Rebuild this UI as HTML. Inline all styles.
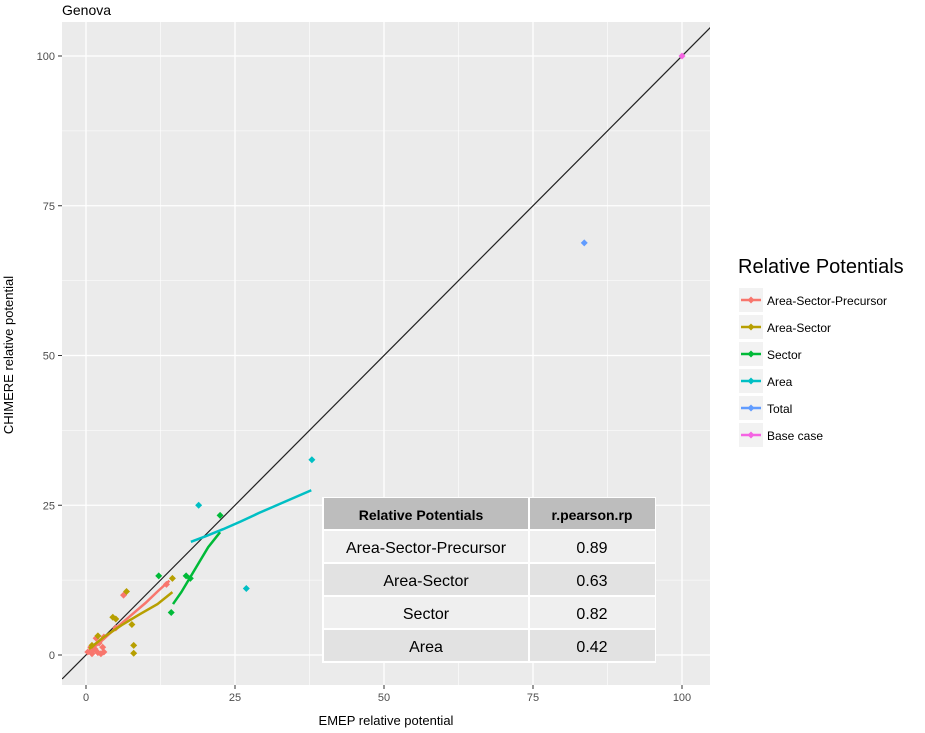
<!DOCTYPE html>
<html><head><meta charset="utf-8">
<style>
body{margin:0;background:#fff;width:925px;height:733px;overflow:hidden;font-family:"Liberation Sans",sans-serif;}
svg{position:absolute;left:0;top:0}
</style></head>
<body>
<svg id="chart" width="925" height="733"></svg>
<script>
const xTicks=[0,25,50,75,100];
const yTicks=[0,25,50,75,100];
const seriesNames=["Area-Sector-Precursor","Area-Sector","Sector","Area","Total","Base case"];
const seriesColors=["#F8766D","#B79F00","#00BA38","#00BFC4","#619CFF","#F564E3"];
const aspLine=[[0,0.3],[2,1.8],[4,3.6],[6,5.3],[8,7],[10,8.7],[12,10.6],[14,12.4]];
const aspPts=[[0.3,0.5],[1,0.2],[1.5,1],[2,0.4],[2.5,0.2],[3,0.5],[0.8,1.3],[2.2,2],[1.2,0.8],[6.3,10],[5,4.5],[3,3],[1.7,2.8],[13.5,11.8],[2.8,1.3]];
const asLine=[[0.5,1],[3,3],[6,5],[9,6.8],[12,8.5],[14.5,10.5]];
const asPts=[[6.8,10.6],[4.5,6.3],[5,6],[8,1.6],[8,0.3],[2,3.2],[7.7,5.1],[14.5,12.8],[1,1.6]];
const secLine=[[14.6,8.5],[16,10.5],[17.5,13],[19,15.5],[20.5,18],[22.5,20.5]];
const secPts=[[12.2,13.2],[22.5,23.3],[17.5,12.8],[14.3,7.1],[16.8,13.2]];
const areaLine=[[17.6,18.9],[20,19.8],[23,21],[26,22.3],[29,23.7],[32,25],[35,26.3],[37.8,27.5]];
const areaPts=[[18.9,25],[37.9,32.6],[26.9,11.1]];
const totalPts=[[83.6,68.8]];
const basePts=[[100,100]];
const lines=[aspLine,asLine,secLine,areaLine,null,null];
const pts=[aspPts,asPts,secPts,areaPts,totalPts,basePts];
const tableHeader=["Relative Potentials","r.pearson.rp"];
const tableNames=["Area-Sector-Precursor","Area-Sector","Sector","Area"];
const tableVals=["0.89","0.63","0.82","0.42"];

const NS="http://www.w3.org/2000/svg";
const svg=document.getElementById('chart');
const L=62,R=710,T=22,B=685;
const X=v=>86+v*5.96, Y=v=>655-v*5.99;
function mk(t,a,p){const e=document.createElementNS(NS,t);for(const k in a)e.setAttribute(k,a[k]);(p||svg).appendChild(e);return e;}
const panel=mk('rect',{x:L,y:T,width:R-L,height:B-T,fill:'#EBEBEB'});


for(let i=0;i<xTicks.length-1;i++){const m=(xTicks[i]+xTicks[i+1])/2;mk('line',{x1:X(m),x2:X(m),y1:T,y2:B,stroke:'#fff','stroke-width':0.6});}
for(let i=0;i<yTicks.length-1;i++){const m=(yTicks[i]+yTicks[i+1])/2;mk('line',{y1:Y(m),y2:Y(m),x1:L,x2:R,stroke:'#fff','stroke-width':0.6});}
xTicks.forEach(t=>{const g=mk('line',{x1:X(t),x2:X(t),y1:T,y2:B,stroke:'#fff','stroke-width':1.3});


mk('line',{x1:X(t),x2:X(t),y1:B,y2:B+4,stroke:'#333'});
const tx=mk('text',{x:X(t),y:B+16,'text-anchor':'middle','font-size':11,fill:'#4D4D4D'});tx.textContent=t;

});
yTicks.forEach(t=>{mk('line',{y1:Y(t),y2:Y(t),x1:L,x2:R,stroke:'#fff','stroke-width':1.3});
mk('line',{y1:Y(t),y2:Y(t),x1:L-4,x2:L,stroke:'#333'});
const tx=mk('text',{x:L-7,y:Y(t)+4,'text-anchor':'end','font-size':11,fill:'#4D4D4D'});tx.textContent=t;

});
const cp=mk('clipPath',{id:'cp'});mk('rect',{x:L,y:T,width:R-L,height:B-T},cp);
const diag=mk('line',{x1:X(-4),y1:Y(-4),x2:X(105),y2:Y(105),stroke:'#222','stroke-width':1.2,'clip-path':'url(#cp)'});


function diamond(x,y,c,g){return mk('path',{d:`M${x} ${y-3.5}L${x+3.5} ${y}L${x} ${y+3.5}L${x-3.5} ${y}Z`,fill:c},g);}
seriesNames.forEach((n,i)=>{
const g=mk('g',{});


if(lines[i]){mk('polyline',{points:lines[i].map(p=>X(p[0])+','+Y(p[1])).join(' '),fill:'none',stroke:seriesColors[i],'stroke-width':2.5},g);}
pts[i].forEach(p=>diamond(X(p[0]),Y(p[1]),seriesColors[i],g));
});
let t=mk('text',{x:62,y:15,'font-size':14,fill:'#000'});t.textContent='Genova';


t=mk('text',{x:386,y:725,'text-anchor':'middle','font-size':13,fill:'#000'});t.textContent='EMEP relative potential';


t=mk('text',{x:0,y:0,'text-anchor':'middle','font-size':13,fill:'#000',transform:'translate(13,355) rotate(-90)'});t.textContent='CHIMERE relative potential';


t=mk('text',{x:738,y:273,'font-size':20,fill:'#000'});t.textContent='Relative Potentials';


seriesNames.forEach((n,i)=>{const y=300+i*27;
const g=mk('g',{});


mk('rect',{x:739,y:y-12,width:24,height:24,fill:'#F2F2F2'},g);
mk('line',{x1:741,x2:761,y1:y,y2:y,stroke:seriesColors[i],'stroke-width':2.5},g);
diamond(751,y,seriesColors[i],g);
const tx=mk('text',{x:767,y:y+5,'font-size':12,fill:'#000'},g);tx.textContent=n;});
const tg=mk('g',{});


mk('rect',{x:322,y:497,width:334,height:166,fill:'#fff'},tg);
mk('rect',{x:324,y:498,width:204,height:31,fill:'#BDBDBD'},tg);
mk('rect',{x:530,y:498,width:125,height:31,fill:'#BDBDBD'},tg);
let h=mk('text',{x:421,y:520,'text-anchor':'middle','font-size':14,'font-weight':'bold',fill:'#000'},tg);h.textContent=tableHeader[0];
h=mk('text',{x:592,y:520,'text-anchor':'middle','font-size':14,'font-weight':'bold',fill:'#000'},tg);h.textContent=tableHeader[1];
tableNames.forEach((n,i)=>{const y=531+i*33;const f=i%2?'#E2E2E2':'#EFEFEF';
mk('rect',{x:324,y:y,width:204,height:31,fill:f},tg);mk('rect',{x:530,y:y,width:125,height:31,fill:f},tg);
let a=mk('text',{x:426,y:y+22,'text-anchor':'middle','font-size':16,fill:'#000'},tg);a.textContent=n;
a=mk('text',{x:592,y:y+22,'text-anchor':'middle','font-size':16,fill:'#000'},tg);a.textContent=tableVals[i];});
</script>
</body></html>
